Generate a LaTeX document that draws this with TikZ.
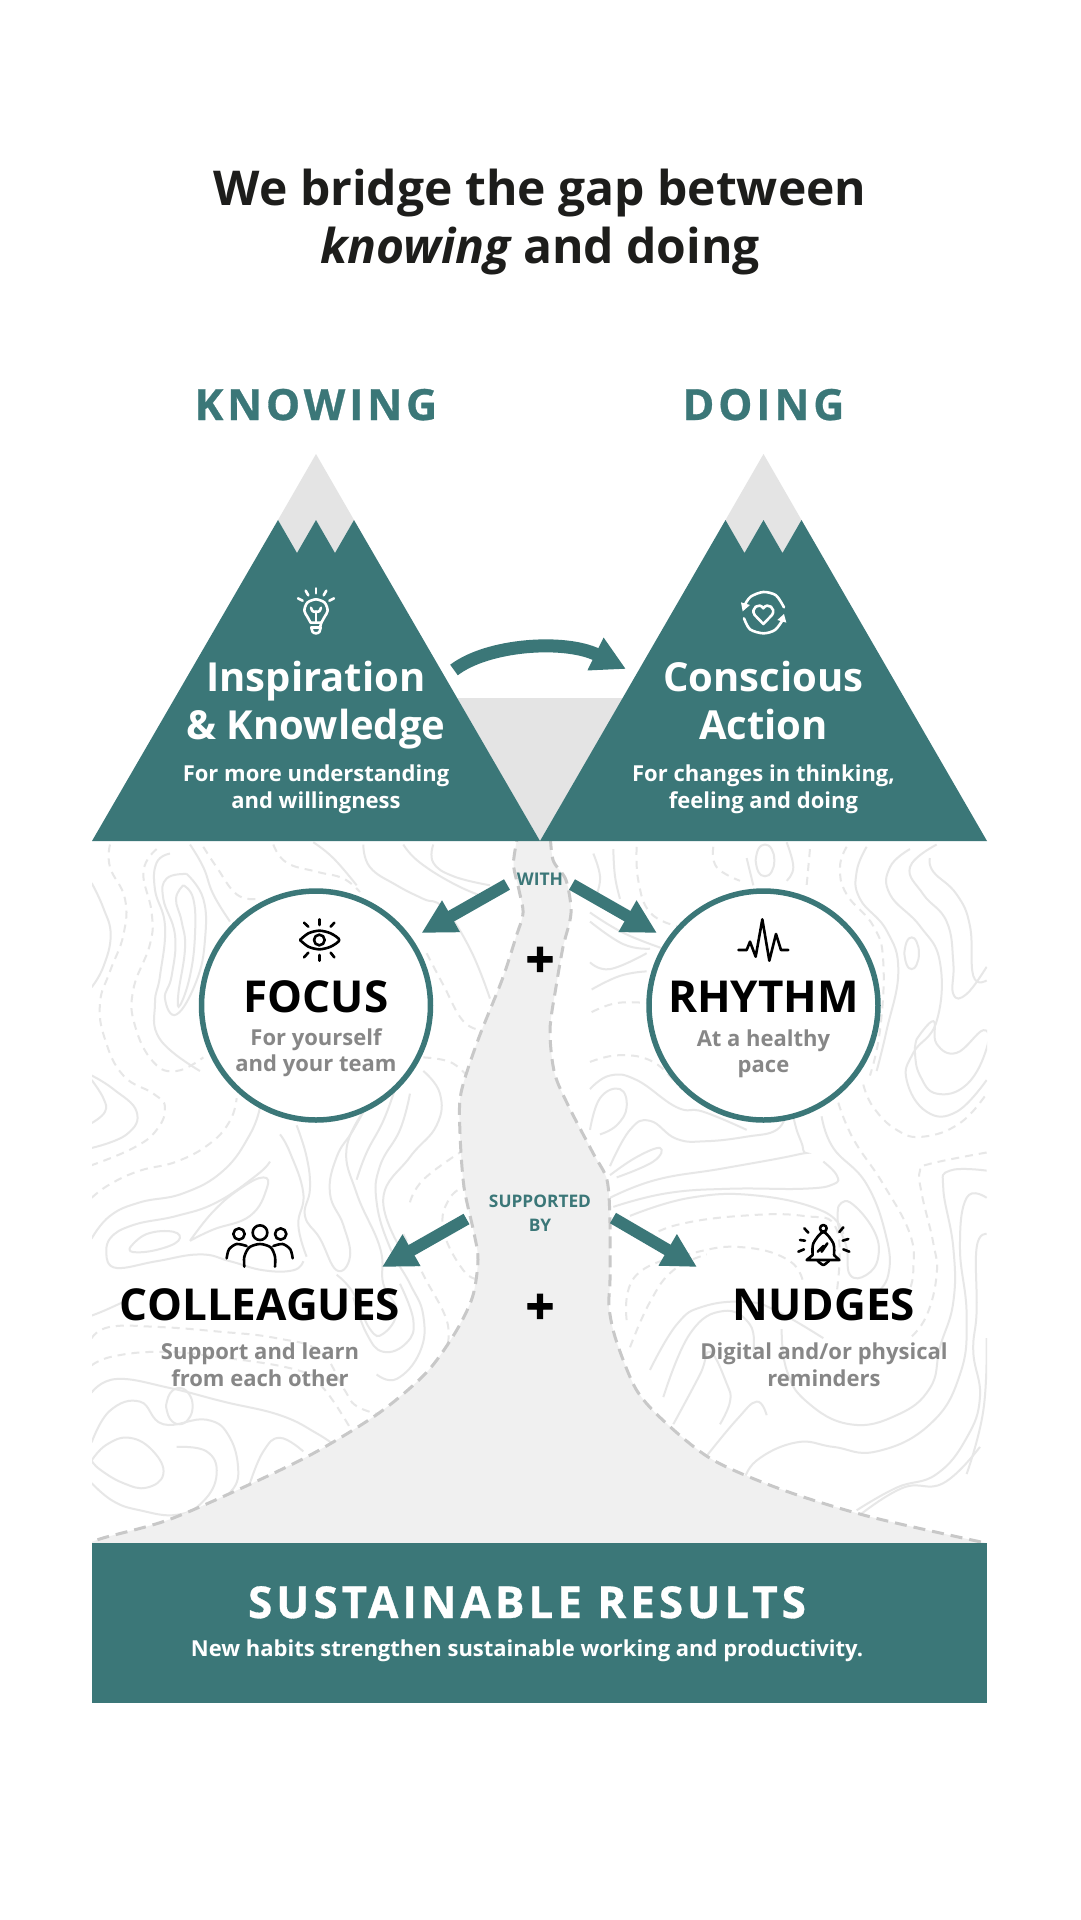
\documentclass[tikz,border=0pt]{standalone}
\usepackage{fontspec}
\setmainfont{Open Sans}
\newfontfamily\spaced{Open Sans}[LetterSpace=9, BoldFeatures={FakeBold=0.7}]
\newfontfamily\heavy{Open Sans}[BoldFeatures={FakeBold=2.2}]
\usetikzlibrary{arrows.meta}
\definecolor{teal}{HTML}{3B7778}
\definecolor{snow}{HTML}{E4E4E4}
\definecolor{river}{HTML}{F0F0F0}
\definecolor{riveredge}{HTML}{C8C8C8}
\definecolor{contour}{HTML}{E7E7E7}
\definecolor{ink}{HTML}{1D1D1B}
\definecolor{soft}{HTML}{878787}
\tikzset{
	txt/.style={inner sep=0, anchor=base, align=center, font=\bfseries\fontsize{#1}{#1}\selectfont},
	solidline/.style={draw=contour, line width=2},
	dashline/.style={draw=contour, line width=2, dash pattern=on 8pt off 6pt},
	bigarrow/.style={draw=teal, line width=12, -{Triangle[length=34pt,width=34pt]}},
	icon/.style={line width=2.6, line cap=round, line join=round},
}
\begin{document}
\begin{tikzpicture}[x=1pt, y=-1pt]
	\useasboundingbox[fill=white] (0,0) rectangle (1080,1920);
	% map lines
	\begin{scope}
		\clip (92,841) rectangle (987,1543);
		\begin{scope}[shift={(90,840)}, xscale=0.3333, yscale=0.4529, smooth, tension=0.75]
			\draw[solidline] plot coordinates {(5,95) (40,150) (62,210) (40,280) (5,325)};
			\draw[dashline] plot coordinates {(60,10) (60,60) (105,130) (100,210) (60,290) (30,360) (45,440) (100,520) (190,560) (225,590) (200,640) (130,680) (5,718)};
			\draw[solidline] plot coordinates {(5,530) (40,570) (45,600) (5,625)};
			\draw[solidline] plot coordinates {(5,520) (70,550) (140,600) (110,650) (5,680)};
			\draw[dashline] plot coordinates {(200,20) (160,70) (185,160) (180,230) (130,330) (135,410) (190,490) (260,510) (340,480)};
			\draw[solidline] plot coordinates {(240,30) (200,50) (195,110) (225,190) (210,300) (195,360) (210,440) (330,510)};
			\draw[solidline] plot coordinates {(290,75) (230,85) (220,130) (255,210) (245,300) (225,350) (260,385) (320,310) (345,220) (340,130) (290,75)};
			\draw[solidline] plot coordinates {(280,100) (258,130) (275,180) (285,240) (265,340) (270,365) (300,300) (315,210) (310,130) (280,100)};
			\draw[solidline] plot coordinates {(300,10) (340,60) (370,120) (420,180)};
			\draw[dashline] plot coordinates {(340,15) (380,60) (440,120) (500,130)};
			\draw[dashline] plot coordinates {(550,10) (590,50) (680,70) (760,85) (810,115)};
			\draw[solidline] plot coordinates {(670,5) (730,40) (800,100)};
			\draw[solidline] plot coordinates {(820,10) (840,60) (920,100) (1000,130) (1060,150) (1140,240) (1200,350)};
			\draw[solidline] plot coordinates {(940,10) (990,50) (1100,100) (1200,130)};
			\draw[solidline] plot coordinates {(1030,10) (1030,50) (1090,80) (1200,100)};
			\draw[dashline] plot coordinates {(1010,250) (1060,320) (1120,400) (1180,420)};
			\draw[dashline] plot coordinates {(5,790) (60,760) (150,730) (260,710) (360,670) (420,620) (440,570)};
			\draw[solidline] plot coordinates {(5,880) (60,830) (150,800) (280,780) (400,730) (480,650) (510,590)};
			\draw[solidline] plot coordinates {(50,920) (60,880) (130,850) (260,830) (380,800) (500,740) (540,710)};
			\draw[solidline] plot coordinates {(120,900) (170,870) (250,865) (265,885) (200,905) (130,910) (120,900)};
			\draw[solidline] plot coordinates {(300,885) (370,860) (480,830) (530,770) (520,745) (450,770) (370,820) (300,885)};
			\draw[solidline] plot coordinates {(50,920) (80,945) (200,930) (330,915) (420,930) (520,950) (610,950) (640,930)};
			\draw[solidline] plot coordinates {(570,650) (600,690) (640,780) (625,850) (650,920)};
			\draw[solidline] plot coordinates {(620,630) (650,700) (660,770) (645,830) (690,880) (740,950) (780,920) (760,850) (720,780) (740,700) (790,640) (850,560)};
			\draw[solidline] plot coordinates {(830,590) (770,680) (800,780) (870,900) (880,980) (920,1040) (880,1090) (840,1080) (790,1000) (740,960)};
			\draw[solidline] plot coordinates {(915,550) (880,620) (830,690) (800,750)};
			\draw[solidline] plot coordinates {(960,560) (930,640) (870,720) (860,800) (900,900) (960,980) (1000,1050) (990,1130) (920,1190) (860,1180)};
			\draw[solidline] plot coordinates {(1000,510) (1050,560) (1040,630) (960,700) (880,790) (930,900)};
			\draw[dashline] plot coordinates {(1000,480) (1080,490) (1130,520)};
			\draw[dashline] plot coordinates {(960,800) (1000,750) (1110,690)};
			\draw[dashline] plot coordinates {(1140,760) (1080,790) (1060,860) (1120,950) (1170,970)};
			\draw[dashline] plot coordinates {(940,870) (1000,960) (1070,1060) (1070,1120)};
			\draw[solidline] plot coordinates {(5,1050) (40,1040) (100,1020)};
			\draw[dashline] plot coordinates {(5,1100) (60,1075) (200,1075) (380,1085) (560,1100) (690,1130) (760,1210) (800,1250) (880,1270)};
			\draw[dashline] plot coordinates {(5,1160) (70,1140) (210,1130) (370,1140) (620,1170) (700,1210) (790,1310)};
			\draw[solidline] plot coordinates {(5,1220) (80,1190) (240,1210) (400,1240) (570,1270) (680,1310) (740,1340)};
			\draw[solidline] plot coordinates {(5,1330) (60,1260) (150,1240) (220,1290) (350,1280) (420,1320) (445,1400) (420,1440)};
			\draw[solidline] plot coordinates {(5,1370) (50,1335) (120,1320) (190,1350) (220,1400) (170,1430) (100,1420) (30,1390) (5,1370)};
			\draw[solidline] plot coordinates {(5,1420) (70,1460) (150,1480) (260,1490) (340,1460) (380,1400) (350,1350) (260,1340)};
			\draw[solidline] plot coordinates {(228,1250) (240,1222) (268,1210) (296,1222) (308,1250) (296,1278) (268,1290) (240,1278) (228,1250)};
			\draw[solidline] plot coordinates {(480,1420) (520,1350) (570,1320) (640,1350)};
			\draw[solidline] plot coordinates {(790,1010) (830,1090) (880,1130) (950,1110) (970,1060) (930,980)};
		\end{scope}
		\begin{scope}[shift={(590,840)}, xscale=0.3333, yscale=0.4529, smooth, tension=0.75]
			\draw[solidline] plot coordinates {(10,30) (30,80) (20,120)};
			\draw[solidline] plot coordinates {(70,20) (75,80) (90,130)};
			\draw[dashline] plot coordinates {(140,15) (145,90) (180,160) (260,190)};
			\draw[solidline] plot coordinates {(497,45) (505,20) (525,10) (545,20) (553,45) (545,70) (525,80) (505,70) (497,45)};
			\draw[solidline] plot coordinates {(470,40) (490,100)};
			\draw[solidline] plot coordinates {(590,5) (610,60) (590,90)};
			\draw[dashline] plot coordinates {(370,15) (380,60) (450,90)};
			\draw[dashline] plot coordinates {(660,20) (650,100)};
			\draw[dashline] plot coordinates {(770,15) (750,60) (770,120) (850,190) (880,270) (870,420) (840,520)};
			\draw[solidline] plot coordinates {(830,15) (800,70) (810,130) (890,200) (925,290) (890,420) (860,510)};
			\draw[solidline] plot coordinates {(960,20) (900,60) (900,120) (990,190) (1050,270) (1040,400) (970,470) (950,530) (1010,600) (1100,600) (1190,530)};
			\draw[solidline] plot coordinates {(1040,10) (960,60) (1000,120) (1070,180) (1090,270) (1090,340) (1130,340) (1190,280)};
			\draw[solidline] plot coordinates {(943,250) (950,225) (965,215) (980,225) (987,250) (980,275) (965,285) (950,275) (943,250)};
			\draw[solidline] plot coordinates {(1020,40) (1030,70) (1100,120) (1140,190) (1150,300) (1190,310)};
			\draw[solidline] plot coordinates {(980,440) (1030,400) (1040,450) (1100,470) (1180,420) (1190,460) (1130,540) (1040,560) (990,520) (975,470) (980,440)};
			\draw[dashline] plot coordinates {(820,540) (850,590) (920,640) (1000,655) (1110,625) (1190,560)};
			\draw[dashline] plot coordinates {(745,580) (790,660) (880,760) (960,870) (970,950) (960,990)};
			\draw[solidline] plot coordinates {(695,610) (730,680) (830,760) (890,880) (895,960) (860,1000)};
			\draw[solidline] plot coordinates {(745,810) (780,800) (850,860) (865,920) (830,960) (780,960) (770,900) (745,850) (745,810)};
			\draw[dashline] plot coordinates {(1190,690) (1020,715) (990,730) (995,780) (1030,890) (1040,960) (1010,1050) (960,1100)};
			\draw[solidline] plot coordinates {(1190,730) (1080,730) (1060,770) (1090,900) (1090,1020) (1050,1120) (1020,1210) (920,1270) (780,1290) (650,1240) (590,1170) (575,1080)};
			\draw[solidline] plot coordinates {(1190,790) (1130,790) (1110,900) (1130,1050) (1110,1180) (1020,1290) (860,1350) (730,1340) (620,1330) (500,1370) (460,1420)};
			\draw[solidline] plot coordinates {(1190,870) (1160,900) (1160,1040) (1150,1130) (1170,1230) (1130,1320) (1040,1400) (920,1430) (800,1480)};
			\draw[dashline] plot coordinates {(5,380) (80,360) (170,360)};
			\draw[solidline] plot coordinates {(5,330) (90,300) (170,290)};
			\draw[solidline] plot coordinates {(0,270) (60,285) (170,250)};
			\draw[solidline] plot coordinates {(0,160) (100,205) (220,240)};
			\draw[solidline] plot coordinates {(0,180) (100,230) (180,240)};
			\draw[dashline] plot coordinates {(0,490) (90,475) (190,490) (260,540)};
			\draw[solidline] plot coordinates {(0,550) (60,520) (140,530) (260,590) (340,600) (470,640)};
			\draw[solidline] plot coordinates {(0,640) (30,570) (90,550) (110,590) (80,630) (30,650)};
			\draw[solidline] plot coordinates {(60,720) (120,640) (180,620) (260,660) (350,665) (470,655) (560,640) (590,600)};
			\draw[solidline] plot coordinates {(60,740) (140,700) (210,680) (190,710) (80,745)};
			\draw[solidline] plot coordinates {(60,790) (200,750) (400,725) (620,695) (640,685) (620,640) (610,610)};
			\draw[solidline] plot coordinates {(70,810) (230,780) (420,770) (640,770) (730,760) (740,740) (700,710)};
			\draw[solidline] plot coordinates {(120,830) (300,790) (500,785) (700,820) (760,870)};
			\draw[dashline] plot coordinates {(170,880) (260,850) (450,830) (640,830) (740,860) (740,1000)};
			\draw[dashline] plot coordinates {(110,1060) (140,960) (320,910) (470,900) (600,930) (640,980)};
			\draw[dashline] plot coordinates {(120,1120) (180,1020) (250,950) (350,915)};
			\draw[solidline] plot coordinates {(220,1230) (300,1090) (400,1040) (480,1070) (490,1130)};
			\draw[solidline] plot coordinates {(250,1290) (330,1180) (360,1130) (410,1200) (420,1240) (390,1290)};
			\draw[solidline] plot coordinates {(350,1360) (440,1280) (500,1240) (530,1270)};
			\draw[solidline] plot coordinates {(180,1170) (260,1070) (340,1030) (470,1020) (560,1040) (700,1100)};
			\draw[solidline] plot coordinates {(810,1490) (940,1430) (1060,1420) (1170,1340)};
			\draw[solidline] plot coordinates {(1190,1100) (1180,1260) (1130,1400)};
		\end{scope}
		% river
		\draw[fill=river, draw=riveredge, line width=3, dash pattern=on 12pt off 7pt, smooth]
			plot coordinates {(519,830) (513.5,863) (519,890) (523,913) (516,937) (502,980) (478,1040) (461,1093) (460,1133) (464,1187) (474,1233) (478,1260) (472.5,1297) (455,1333) (426,1373) (379,1413) (314,1453) (244,1487) (168,1520) (103,1538) (85,1545)}
			-- plot coordinates {(995,1545) (871,1517) (783,1490) (713,1460) (666,1423) (636.5,1390) (616,1340) (609,1307) (610,1280) (610,1223) (607,1180) (593,1153) (569,1107) (554.5,1073) (550,1030) (556,987) (563,947) (571,913) (566,880) (553,860) (550,830)}
			-- cycle;
	\end{scope}
	% mountains
	\fill[snow] (457,698) -- (623,698) -- (540,841) -- cycle;
	\fill[snow] (316,454) -- (278,520) -- (297,553) -- (316,520) -- (335,553) -- (354,520) -- cycle;
	\fill[snow] (763.5,454) -- (725.5,520) -- (744.5,553) -- (763.5,520) -- (782.5,553) -- (801.5,520) -- cycle;
	\fill[teal] (92,841) -- (278,520) -- (297,553) -- (316,520) -- (335,553) -- (354,520) -- (540,841) -- cycle;
	\fill[teal] (540,841) -- (725.5,520) -- (744.5,553) -- (763.5,520) -- (782.5,553) -- (801.5,520) -- (987,841) -- cycle;
	% results bar
	\fill[teal] (92,1543) rectangle (987,1703);
	% circles
	\node[circle, draw=teal, fill=white, line width=5.5, minimum size=229, inner sep=0] (focus) at (316,1005.5) {};
	\node[circle, draw=teal, fill=white, line width=5.5, minimum size=229, inner sep=0] (rhythm) at (763.5,1005.5) {};
	% texts
	\node[txt=48, text=ink] (title1) at (540,205.5) {We bridge the gap between};
	\node[txt=48, text=ink] (title2) at (540,263.5) {\itshape knowing\upshape{} and doing};
	\node[txt=43, text=teal] (know) at (316,420) {\spaced\bfseries KNOWING};
	\node[txt=43, text=teal] (doing) at (763.5,420) {\spaced\bfseries DOING};
	\node[txt=40, text=white] (insp1) at (316,691) {Inspiration};
	\node[txt=40, text=white] (insp2) at (316,739) {\& Knowledge};
	\node[txt=22, text=white] (insp3) at (316,781) {For more understanding};
	\node[txt=22, text=white] (insp4) at (316,808) {and willingness};
	\node[txt=40, text=white] (act1) at (763.5,691) {Conscious};
	\node[txt=40, text=white] (act2) at (763.5,739) {Action};
	\node[txt=22, text=white] (act3) at (763.5,781) {For changes in thinking,};
	\node[txt=22, text=white] (act4) at (763.5,808) {feeling and doing};
	\node[txt=17.5, text=teal] (with) at (540,885) {WITH};
	\node[txt=44, text=black] (focus1) at (316,1012) {FOCUS};
	\node[txt=22, text=soft] (focus2) at (316,1045) {For yourself};
	\node[txt=22, text=soft] (focus3) at (316,1071) {and your team};
	\node[txt=44, text=black] (rhythm1) at (763.5,1012) {RHYTHM};
	\node[txt=22, text=soft] (rhythm2) at (763.5,1046) {At a healthy};
	\node[txt=22, text=soft] (rhythm3) at (763.5,1072) {pace};
	\node[txt=50, text=black] (plus1) at (540,977) {\heavy\bfseries +};
	\node[txt=50, text=black] (plus2) at (540,1324) {\heavy\bfseries +};
	\node[txt=17.3, text=teal] (sup1) at (540,1207) {SUPPORTED};
	\node[txt=17.3, text=teal] (sup2) at (540,1231) {BY};
	\node[txt=44, text=black] (coll1) at (260,1320) {COLLEAGUES};
	\node[txt=22, text=soft] (coll2) at (260,1359.5) {Support and learn};
	\node[txt=22, text=soft] (coll3) at (260,1386) {from each other};
	\node[txt=44, text=black] (nudge1) at (824,1320) {NUDGES};
	\node[txt=22, text=soft] (nudge2) at (824,1359.5) {Digital and/or physical};
	\node[txt=22, text=soft] (nudge3) at (824,1386) {reminders};
	\node[txt=44, text=white] (result1) at (527,1618) {\spaced\bfseries SUSTAINABLE RESULTS};
	\node[txt=22, text=white] (result2) at (527,1656) {New habits strengthen sustainable working and productivity.};
	% arrows
	\coordinate (a1) at (454,670);
	\coordinate (a2) at (626,669);
	\draw[bigarrow, line width=13] (a1) .. controls (488,644) and (565,639) .. (a2);
	\coordinate (w1) at (507,884.5);
	\coordinate (w2) at (421.5,933);
	\coordinate (w3) at (572,884.5);
	\coordinate (w4) at (657,933);
	\draw[bigarrow] (w1) -- (w2);
	\draw[bigarrow] (w3) -- (w4);
	\coordinate (s1) at (466.5,1219);
	\coordinate (s2) at (382,1267);
	\coordinate (s3) at (613,1218);
	\coordinate (s4) at (697,1267);
	\draw[bigarrow] (s1) -- (s2);
	\draw[bigarrow] (s3) -- (s4);
	% icons
	\begin{scope}[shift={(270,570)}, scale=0.3333, icon, draw=white]
		\draw plot[smooth] coordinates {(122,158) (112,140) (103,122) (112,98) (138,88) (164,98) (173,122) (164,140) (154,158)};
		\draw (122,158) -- (154,158) -- (150,172);
		\draw plot[smooth] coordinates {(124,172) (128,186) (138,190) (148,186) (152,172)};
		\draw (124,172) -- (152,172);
		\draw (138,155) -- (138,125);
		\draw plot[smooth] coordinates {(138,125) (128,124) (123,113)};
		\draw plot[smooth] coordinates {(138,125) (148,124) (153,113)};
		\draw (138,55) -- (138,70);
		\draw (107,62) -- (115,76);
		\draw (169,62) -- (161,76);
		\draw (84,85) -- (98,92);
		\draw (192,85) -- (178,92);
	\end{scope}
	\begin{scope}[shift={(720,570)}, scale=0.3333, icon, draw=white]
		\draw plot[smooth] coordinates {(74,105) (92,80) (130,66) (168,76) (192,112)};
		\draw plot[smooth] coordinates {(72,145) (90,178) (130,190) (165,180) (188,150)};
		\fill[white] (68,124) -- (63,97) -- (90,105) -- cycle;
		\fill[white] (192,132) -- (172,150) -- (199,158) -- cycle;
		\draw (130,162) -- (104,135) .. controls (90,115) and (118,95) .. (130,115) .. controls (142,95) and (170,115) .. (156,135) -- cycle;
	\end{scope}
	\begin{scope}[shift={(280,910)}, scale=0.3333, icon, draw=black]
		\draw plot[smooth] coordinates {(60,90) (85,70) (118,62) (152,70) (178,90) (152,110) (118,118) (85,110) (60,90)};
		\draw (118,90) circle[radius=16];
		\draw (118,28) -- (118,45);
		\draw (72,38) -- (85,50);
		\draw (163,38) -- (152,50);
		\draw (118,135) -- (118,152);
		\draw (72,142) -- (85,128);
		\draw (163,142) -- (152,128);
	\end{scope}
	\begin{scope}[shift={(720,910)}, scale=0.3333, icon, draw=black]
		\draw (55,120) -- (80,120) -- (90,95) -- (107,140) -- (127,28) -- (148,152) -- (168,72) -- (183,120) -- (205,120);
	\end{scope}
	\begin{scope}[shift={(210,1210)}, scale=0.3333, icon, draw=black]
		\draw (150,68) circle[radius=22];
		\draw (87,72) circle[radius=17];
		\draw (212,72) circle[radius=17];
		\draw plot[smooth] coordinates {(103,170) (103,140) (118,112) (150,102) (182,112) (195,140) (195,170)};
		\draw plot[smooth] coordinates {(50,145) (57,118) (80,102) (110,108)};
		\draw plot[smooth] coordinates {(248,145) (241,118) (218,102) (190,108)};
	\end{scope}
	\begin{scope}[shift={(780,1210)}, scale=0.3333, icon, draw=black]
		\draw (130,55) circle[radius=10];
		\draw plot[smooth] coordinates {(98,135) (100,100) (130,66) (160,100) (162,135)};
		\draw (98,135) -- (80,150) -- (178,150) -- (162,135);
		\draw plot[smooth] coordinates {(113,152) (130,165) (147,152)};
		\draw (113,125) -- (130,108) -- (125,125) -- (142,100);
		\draw (73,55) -- (85,68);
		\draw (190,52) -- (178,66);
		\draw (60,90) -- (75,92);
		\draw (205,87) -- (188,92);
		\draw (55,125) -- (72,118);
		\draw (208,125) -- (190,118);
	\end{scope}
\end{tikzpicture}
\end{document}
